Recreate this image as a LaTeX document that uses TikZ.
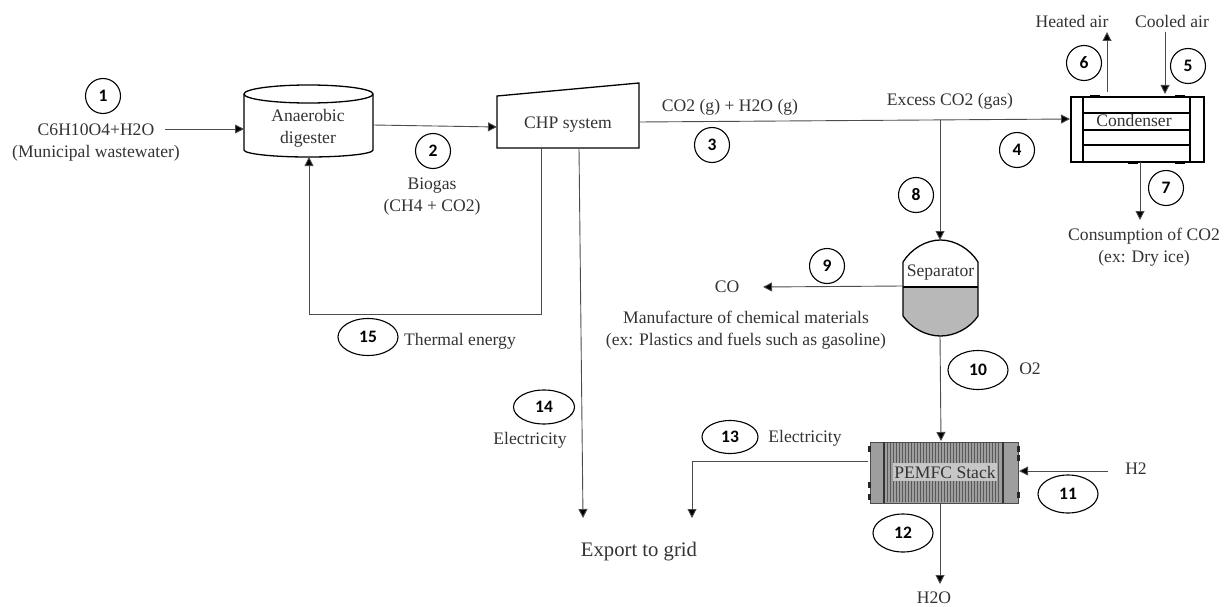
\documentclass[tikz,border=0pt]{standalone}
\usepackage{fontspec}
\setmainfont{Liberation Serif}
\newfontfamily\numfont{Carlito}
\usetikzlibrary{arrows.meta,shapes.geometric}
\tikzset{
	flow/.style={draw=black!70, line width=0.9pt, -{Triangle[length=9pt,width=9pt,fill=black]}},
	numcircle/.style={draw, circle, line width=1.1pt, minimum size=35pt, inner sep=0pt, font=\numfont\bfseries\fontsize{17.5}{17.5}\selectfont},
	numellipse/.style={draw, ellipse, line width=1.1pt, minimum width=60pt, minimum height=37pt, inner sep=0pt, font=\numfont\bfseries\fontsize{17.5}{17.5}\selectfont},
	lbl/.style={inner sep=0pt, align=center, font=\fontsize{17.6}{22}\selectfont, text=black!80},
	vessel/.style={draw, line width=1.3pt},
}
\begin{document}
\begin{tikzpicture}[x=1pt,y=-1pt]
			\useasboundingbox (0,0) rectangle (1225,607);
			%%%%% EQUIPMENT %%%%%
			
			\draw[vessel] (244,94) arc (180:360:64.5 and 9) -- (373,150) arc (0:180:64.5 and 7) -- cycle;
			\draw[vessel] (244,94) arc (180:0:64.5 and 9);
			\node[lbl] (digester) at (308,128) {Anaerobic\\digester};
			
			\draw[vessel] (497,96) -- (639,83) -- (639,148) -- (497,148) -- cycle;
			\node[lbl] (chp) at (568,125) {CHP system};
			
			\node[vessel, line width=1.8pt, minimum width=133pt, minimum height=65pt, inner sep=0pt] (condenser) at (1137.5,129.5) {};
			\draw[line width=1.8pt] (1083,97) -- (1083,162);
			\draw[line width=1.8pt] (1190,97) -- (1190,162);
			\foreach \yy in {113,130,145}
				\draw[line width=1.4pt] (1083,\yy) -- (1190,\yy);
			\foreach \xx in {1095,1180}
				\draw[line width=1.4pt] (\xx-5,96) -- (\xx+5,96);
			\foreach \xx in {1133,1180}
				\draw[line width=1.4pt] (\xx-5,163) -- (\xx+5,163);
			\node[lbl] (condenserlbl) at (1134,120) {Condenser};
			
			\fill[black!28] (903,287) -- (978,287) -- (978,316) .. controls (970,328) and (955,336) .. (940.5,336) .. controls (926,336) and (911,328) .. (903,316) -- cycle;
			\draw[vessel] (903,262) .. controls (911,249) and (926,240) .. (940.5,240) .. controls (955,240) and (970,249) .. (978,262) -- (978,316) .. controls (970,328) and (955,336) .. (940.5,336) .. controls (926,336) and (911,328) .. (903,316) -- cycle;
			\draw[vessel] (903,287) -- (978,287);
			\node[lbl] (separator) at (940.5,273) {Separator};
			
			\node[draw=black!70, fill=black!38, line width=1pt, minimum width=148pt, minimum height=61pt, inner sep=0pt] (pemfc) at (944,472.5) {};
			\foreach \xx in {887,890,...,1000}
				\draw[black!65, line width=0.9pt] (\xx,443) -- (\xx,502);
			\draw[line width=1.3pt, black!80] (884,442) -- (884,503);
			\draw[line width=1.3pt, black!80] (1003,442) -- (1003,503);
			\foreach \yy in {449,485,497}
				\fill[black!85] (868,\yy-3) rectangle (871,\yy+3);
			\foreach \yy in {449,458,495}
				\fill[black!85] (1017,\yy-3) rectangle (1020,\yy+3);
			\node[lbl, fill=black!22, inner xsep=1pt, inner ysep=3pt] (pemfclbl) at (945,472) {PEMFC Stack};
			
			%%%%% LABELS %%%%%
			
			\node[lbl] (feed) at (96,143) {C6H10O4+H2O\\(Municipal wastewater)};
			\node[lbl] (biogas) at (432,197) {Biogas\\(CH4 + CO2)};
			\node[lbl] (exhaust) at (730,107) {CO2 (g) + H2O (g)};
			\node[lbl] (excess) at (950,101) {Excess CO2 (gas)};
			\node[lbl] (heated) at (1072,21) {Heated air};
			\node[lbl] (cooled) at (1172,21) {Cooled air};
			\node[lbl] (consumption) at (1144,247.5) {Consumption of CO2\\(ex: Dry ice)};
			\node[lbl] (co) at (727,287) {CO};
			\node[lbl] (manufacture) at (746,330) {Manufacture of chemical materials\\(ex: Plastics and fuels such as gasoline)};
			\node[lbl] (thermal) at (460,341) {Thermal energy};
			\node[lbl] (otwo) at (1030,369) {O2};
			\node[lbl] (elecleft) at (530,440) {Electricity};
			\node[lbl] (elecright) at (805,438) {Electricity};
			\node[lbl] (htwo) at (1136,469) {H2};
			\node[lbl, font=\fontsize{20.7}{24}\selectfont] (export) at (639,552) {Export to grid};
			\node[lbl] (water) at (934,598) {H2O};
			
			%%%%% NUMBERS %%%%%
			
			\node[numcircle] (n1) at (103,96) {1};
			\node[numcircle] (n2) at (433,151) {2};
			\node[numcircle] (n3) at (712,145) {3};
			\node[numcircle] (n4) at (1017,150) {4};
			\node[numcircle] (n5) at (1188,66) {5};
			\node[numcircle] (n6) at (1084,63) {6};
			\node[numcircle] (n7) at (1166,188) {7};
			\node[numcircle] (n8) at (916,195) {8};
			\node[numcircle] (n9) at (827,266) {9};
			\node[numellipse, minimum height=39pt] (n10) at (978,370) {10};
			\node[numellipse, minimum height=38pt] (n11) at (1068,494) {11};
			\node[numellipse, minimum height=38pt] (n12) at (903,533) {12};
			\node[numellipse, minimum width=56pt, minimum height=33pt] (n13) at (730,437) {13};
			\node[numellipse, minimum width=61pt, minimum height=34pt] (n14) at (544,407) {14};
			\node[numellipse] (n15) at (368,337) {15};
			
			%%%%% FLOWS %%%%%
			
			\coordinate (feedend) at (165,129);
			\coordinate (digin) at (244,129);
			\coordinate (digout) at (373,125);
			\coordinate (digbot) at (309,157);
			\coordinate (chpin) at (497,127);
			\coordinate (chpout) at (639,122);
			\coordinate (condin) at (1070,119);
			\coordinate (splitco) at (940,120);
			\coordinate (thermalfrom) at (541,148);
			\coordinate (thermalright) at (541,314);
			\coordinate (thermalleft) at (309,314);
			\coordinate (exportfrom) at (579,148);
			\coordinate (exportto) at (583,518);
			\coordinate (sepin) at (940,240);
			\coordinate (sepco) at (903,286);
			\coordinate (coend) at (763,287);
			\coordinate (sepout) at (940,336);
			\coordinate (pemfcin) at (941,441);
			\coordinate (htwostart) at (1108,471);
			\coordinate (pemfcright) at (1019,471);
			\coordinate (pemfcleft) at (868,461);
			\coordinate (gridcorner) at (692,461);
			\coordinate (gridend) at (692,518);
			\coordinate (pemfcout) at (940,503);
			\coordinate (waterend) at (940,584);
			\coordinate (heatfrom) at (1107,92);
			\coordinate (heatto) at (1107,32);
			\coordinate (coolfrom) at (1165,32);
			\coordinate (coolto) at (1165,94);
			\coordinate (consfrom) at (1140,162);
			\coordinate (consto) at (1140,220);
			
			\draw[flow] (feedend) -- (digin);
			\draw[flow] (digout) -- (chpin);
			\draw[flow] (chpout) -- (condin);
			\draw[flow] (splitco) -- (sepin);
			\draw[flow] (thermalfrom) -- (thermalright) -- (thermalleft) -- (digbot);
			\draw[flow] (exportfrom) -- (exportto);
			\draw[flow] (sepco) -- (coend);
			\draw[flow] (sepout) -- (pemfcin);
			\draw[flow] (htwostart) -- (pemfcright);
			\draw[flow] (pemfcleft) -- (gridcorner) -- (gridend);
			\draw[flow] (pemfcout) -- (waterend);
			\draw[flow] (heatfrom) -- (heatto);
			\draw[flow] (coolfrom) -- (coolto);
			\draw[flow] (consfrom) -- (consto);
			
			%%%%% END %%%%%
		\end{tikzpicture}
\end{document}
